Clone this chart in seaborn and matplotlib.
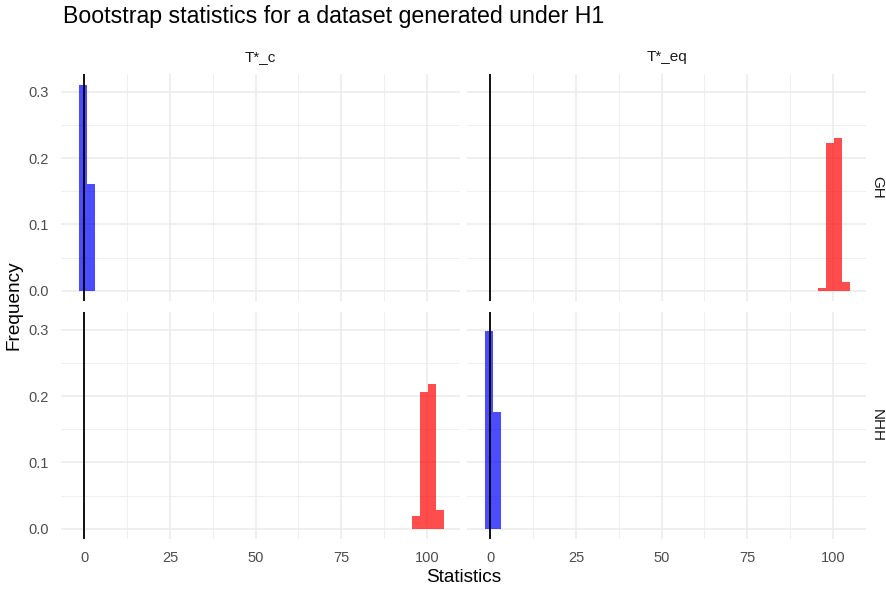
import numpy as np
import pandas as pd
import seaborn as sns
import matplotlib
matplotlib.use("Agg")
import matplotlib.pyplot as plt
from matplotlib.ticker import MultipleLocator

# ---- data ----
col_labels = ["T*_c", "T*_eq"]
row_labels = ["GH", "NHH"]
blue_edges = [-1.4, 0.9, 3.2]
red_edges = [95.7, 98.0, 100.3, 102.6, 104.9]
gh_tc_blue = [0.311, 0.161]
gh_teq_red = [0.004, 0.223, 0.231, 0.013]
nhh_tc_red = [0.019, 0.207, 0.218, 0.028]
nhh_teq_blue = [0.299, 0.176]
x_ticks = [0, 25, 50, 75, 100]
y_ticks = [0.0, 0.1, 0.2, 0.3]

sns.set_theme(style="white")
plt.rcParams['font.family'] = ['Liberation Sans', 'DejaVu Sans']

W, H = 886, 595
fig = plt.figure(figsize=(W / 100, H / 100), dpi=100)

def ax_at(x0, y0, x1, y1):
    return fig.add_axes([x0 / W, 1 - y1 / H, (x1 - x0) / W, (y1 - y0) / H])

panels = {
    (0, 0): ("blue", gh_tc_blue, blue_edges),
    (0, 1): ("red", gh_teq_red, red_edges),
    (1, 0): ("red", nhh_tc_red, red_edges),
    (1, 1): ("blue", nhh_teq_blue, blue_edges),
}
xbox = [(61, 460), (467, 866)]
ybox = [(74, 301), (312, 539)]
colors = {"blue": "#0000ff", "red": "#ff0000"}
grid_c = "#ebebeb"
tick_c = "#4d4d4d"

for (r, c), (kind, heights, edges) in panels.items():
    ax = ax_at(xbox[c][0], ybox[r][0], xbox[c][1], ybox[r][1])
    centers = [(a + b) / 2 for a, b in zip(edges[:-1], edges[1:])]
    df = pd.DataFrame({"x": centers, "w": heights})
    sns.histplot(data=df, x="x", weights="w", bins=list(edges), ax=ax,
                 color=colors[kind], alpha=0.7, edgecolor="none", linewidth=0)
    ax.axvline(0, color="black", lw=1.3, zorder=3)
    ax.set_xlim(-6.8, 109.7)
    ax.set_ylim(-0.0156, 0.327)
    ax.xaxis.set_major_locator(MultipleLocator(25))
    ax.xaxis.set_minor_locator(MultipleLocator(12.5))
    ax.yaxis.set_major_locator(MultipleLocator(0.1))
    ax.yaxis.set_minor_locator(MultipleLocator(0.05))
    ax.grid(True, which="major", color=grid_c, lw=1.1)
    ax.grid(True, which="minor", color=grid_c, lw=0.55)
    ax.set_axisbelow(True)
    for s in ax.spines.values():
        s.set_visible(False)
    ax.tick_params(which="both", length=0, labelsize=10.5, colors=tick_c)
    ax.tick_params(axis="x", pad=9)
    ax.tick_params(axis="y", pad=9)
    ax.set_xlabel("")
    ax.set_ylabel("")
    if r == 0:
        ax.set_xticklabels([])
        ax.text(0.5, 1.0 + 17 / 227, col_labels[c], transform=ax.transAxes,
                ha="center", va="center", fontsize=11, color="#1a1a1a")
    else:
        ax.set_xticks(x_ticks)
        ax.set_xticklabels([str(v) for v in x_ticks])
    if c == 1:
        ax.set_yticklabels([])
        ax.text(1.0 + 11 / 399, 0.5, row_labels[r], transform=ax.transAxes,
                ha="center", va="center", fontsize=11, color="#1a1a1a",
                rotation=-90)
    else:
        ax.set_yticks(y_ticks)
        ax.set_yticklabels([f"{v:.1f}" for v in y_ticks])

fig.text(464 / W, 1 - 578 / H, "Statistics", ha="center", va="center",
         fontsize=13.7, color="black")
fig.text(14 / W, 1 - 305 / H, "Frequency", ha="center", va="center",
         fontsize=13.7, color="black", rotation=90)
fig.text(63 / W, 1 - 17 / H, "Bootstrap statistics for a dataset generated under H1",
         ha="left", va="center", fontsize=16.7, color="black")

fig.savefig("out.png", dpi=100, facecolor="white")
